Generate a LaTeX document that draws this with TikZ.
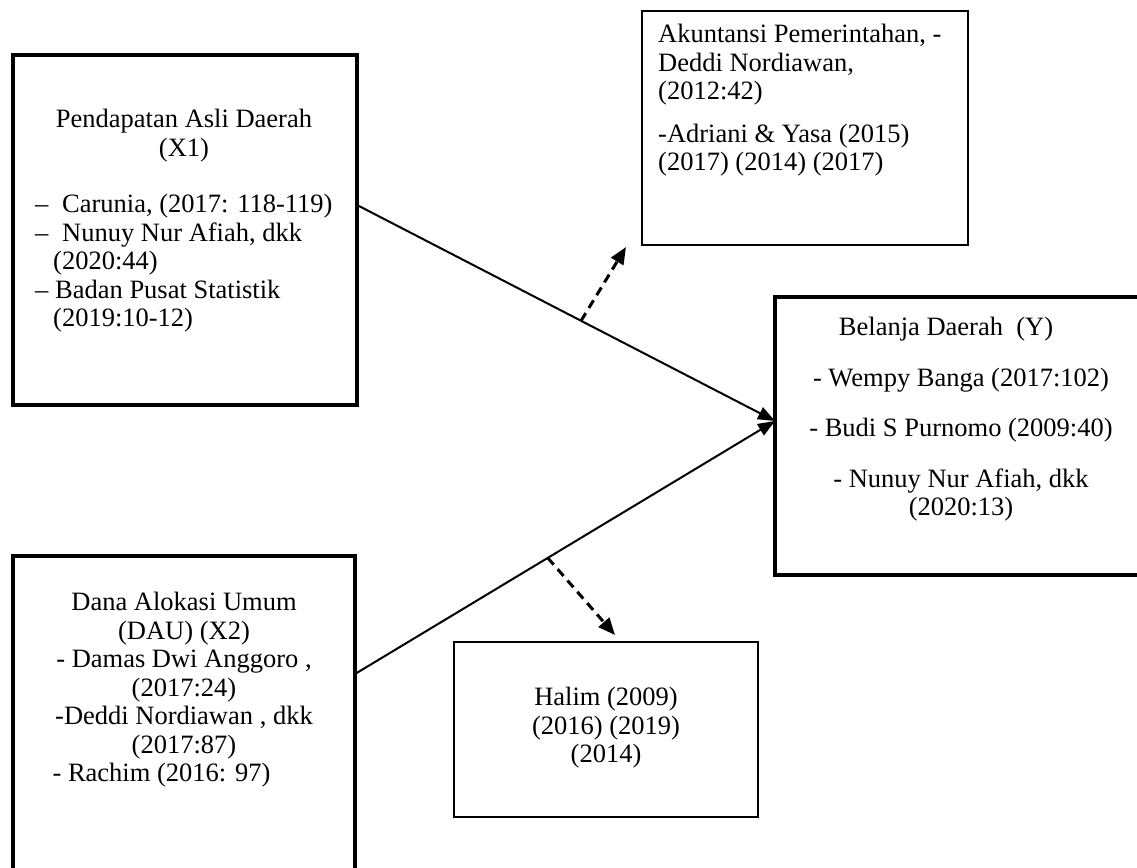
\documentclass[tikz,border=0pt]{standalone}
\usepackage{fontspec}
\setmainfont{Liberation Serif}
\usetikzlibrary{arrows.meta,calc}

\begin{document}
\begin{tikzpicture}[x=1pt,y=-1pt,font=\fontsize{26.5}{28.5}\selectfont,>={Triangle[length=17pt,width=14pt]},
 var/.style={draw,line width=4pt,inner sep=0pt,outer sep=0pt},
 ref/.style={draw,line width=1.6pt,inner sep=0pt,outer sep=0pt},
 txt/.style={inner sep=0pt},
 link/.style={->,line width=2pt,>={Triangle[length=17pt,width=13pt]}},
 dasharrow/.style={->,line width=3pt,dash pattern=on 9pt off 6pt}]
\useasboundingbox (0,0) rectangle (1137,867);
\node[var,minimum width=344pt,minimum height=350pt] (x1) at (185,230) {};
\node[var,minimum width=342pt,minimum height=344pt] (x2) at (184,728) {};
\node[ref,minimum width=326pt,minimum height=234pt] (ak) at (805,128) {};
\node[var,minimum width=372pt,minimum height=278pt] (yb) at (961,436) {};
\node[ref,minimum width=304pt,minimum height=175pt] (hb) at (606,729.5) {};
\node[txt,anchor=north,align=center] (x1t) at (184,109) {Pendapatan Asli Daerah\\(X1)};
\node[txt,anchor=north west,align=left] (x1l) at (35,194) {\makebox[27pt][l]{--}Carunia, (2017: 118-119)\\\makebox[27pt][l]{--}Nunuy Nur Afiah, dkk\\\hspace*{18pt}(2020:44)\\\makebox[20pt][l]{--}Badan Pusat Statistik\\\hspace*{18pt}(2019:10-12)};
\node[txt,anchor=north,align=center] (x2t) at (184,592) {Dana Alokasi Umum\\(DAU) (X2)\\- Damas Dwi Anggoro ,\\(2017:24)\\-Deddi Nordiawan , dkk\\(2017:87)\\- Rachim (2016: 97)\hspace{45pt}\mbox{}};
\node[txt,anchor=north west,align=left] (akt) at (658,24) {Akuntansi Pemerintahan, -\\Deddi Nordiawan,\\(2012:42)\\[14pt]-Adriani \& Yasa (2015)\\(2017) (2014) (2017)};
\node[txt,anchor=north,align=center] (ybt) at (961,317) {Belanja Daerah\ \ (Y)\hspace{30pt}\mbox{}\\[22pt]- Wempy Banga (2017:102)\\[22pt]- Budi S Purnomo (2009:40)\\[22pt]- Nunuy Nur Afiah, dkk\\(2020:13)};
\node[txt,anchor=north,align=center] (hbt) at (606,687) {Halim (2009)\\(2016) (2019)\\(2014)};
\coordinate (s1) at (x1.east |- 0,205);
\coordinate (s2) at (x2.east |- 0,674);
\coordinate (tip) at (yb.west |- 0,421);
\foreach \s in {s1,s2}{\draw[link] (\s)--(tip);}
\draw[dasharrow] ($(s1)!0.536!(tip)$)--($(ak.south west)+(-16,2)$);
\draw[dasharrow] ($(s2)!0.459!(tip)$)--($(hb.north)+(9,-7)$);
\end{tikzpicture}
\end{document}
